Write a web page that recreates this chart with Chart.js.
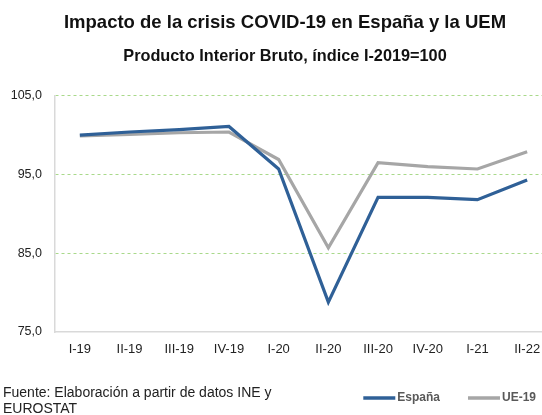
<!DOCTYPE html>
<html>
<head>
<meta charset="utf-8">
<script src="https://cdn.jsdelivr.net/npm/chart.js@4"></script>
<style>
  html, body { margin: 0; padding: 0; background: #fff; overflow: hidden; }
  /* el gráfico original sigue más allá del borde derecho */
  #wrap { width: 552px; height: 415px; position: relative; }
</style>
</head>
<body>
<div id="wrap"><canvas id="pib"></canvas></div>
<script>
// Datos trimestrales, índice I-2019 = 100
const quarters = ['I-19', 'II-19', 'III-19', 'IV-19', 'I-20', 'II-20', 'III-20', 'IV-20', 'I-21', 'II-22'];
const espana = [100.0, 100.4, 100.7, 101.1, 95.7, 78.8, 92.1, 92.1, 91.8, 94.3];
const ue19   = [99.9, 100.1, 100.3, 100.4, 96.9, 85.7, 96.5, 96.0, 95.7, 97.9];
const yTicks = [75, 85, 95, 105];

const FONT = "'Liberation Sans', Arial, sans-serif";

// los títulos van algo desplazados a la derecha en el original
const titleShift = {
  id: 'titleShift',
  afterLayout(chart) {
    const T = chart.titleBlock && chart.titleBlock.constructor;
    if (!T) return;
    chart.boxes.forEach(b => { if (b instanceof T) b.left += 18; });
  }
};

// fuente + leyenda dibujadas a mano (leyenda alineada a la derecha, estilo Excel)
const footer = {
  id: 'footer',
  afterDraw(chart) {
    const c = chart.ctx;
    c.save();
    c.textBaseline = 'middle';
    c.font = '14px ' + FONT;
    c.fillStyle = '#222';
    c.fillText('Fuente: Elaboración a partir de datos INE y', 3, 393);
    c.fillText('EUROSTAT', 3, 409);

    c.font = 'bold 12px ' + FONT;
    const lineW = 32, gap = 2, itemGap = 28, yLeg = 398;
    const items = chart.data.datasets.map(d => ({ text: d.label, color: d.borderColor, w: c.measureText(d.label).width }));
    let total = items.reduce((s, it) => s + lineW + gap + it.w, 0) + itemGap * (items.length - 1);
    let x = 536 - total;
    items.forEach(it => {
      c.strokeStyle = it.color;
      c.lineWidth = 3.5;
      c.beginPath();
      c.moveTo(x, yLeg);
      c.lineTo(x + lineW, yLeg);
      c.stroke();
      c.fillStyle = '#595959';
      c.fillText(it.text, x + lineW + gap, yLeg);
      x += lineW + gap + it.w + itemGap;
    });
    c.restore();
  }
};

new Chart(document.getElementById('pib'), {
  type: 'line',
  data: {
    labels: quarters,
    datasets: [
      { label: 'España', data: espana, borderColor: '#2f6097', backgroundColor: '#2f6097',
        borderWidth: 3.2, pointRadius: 0, tension: 0 },
      { label: 'UE-19', data: ue19, borderColor: '#a6a6a6', backgroundColor: '#a6a6a6',
        borderWidth: 3.2, pointRadius: 0, tension: 0 }
    ]
  },
  options: {
    responsive: true,
    maintainAspectRatio: false,
    animation: false,
    layout: { padding: { left: 0, right: 0, top: 0, bottom: 0 } },
    plugins: {
      title: {
        display: true,
        text: 'Impacto de la crisis COVID-19 en España y la UEM',
        color: '#111',
        font: { family: FONT, size: 18.5, weight: 'bold' },
        padding: { top: 12, bottom: 13 }
      },
      subtitle: {
        display: true,
        text: 'Producto Interior Bruto, índice I-2019=100',
        color: '#111',
        font: { family: FONT, size: 16.3, weight: 'bold' },
        padding: { top: 0, bottom: 29 }
      },
      legend: { display: false },
      tooltip: { enabled: false }
    },
    scales: {
      x: {
        offset: true,
        grid: { display: false, drawTicks: false },
        border: { color: '#d9d9d9', width: 1.5 },
        ticks: { color: '#222', padding: 10, maxRotation: 0, font: { family: FONT, size: 13 } },
        afterFit: (s) => { s.height = 83; }
      },
      y: {
        min: 75,
        max: 105,
        afterBuildTicks: (s) => { s.ticks = yTicks.map(v => ({ value: v })); },
        grid: {
          drawTicks: false,
          color: (ctx) => ctx.tick && ctx.tick.value === 75 ? 'rgba(0,0,0,0)' : '#a9d98a'
        },
        border: { color: '#d9d9d9', width: 1.5, dash: [3, 3] },
        ticks: {
          color: '#222',
          padding: 13,
          font: { family: FONT, size: 12.5 },
          callback: (v) => v.toFixed(1).replace('.', ',')
        },
        afterFit: (s) => { s.width = 55; }
      }
    }
  },
  plugins: [titleShift, footer]
});
</script>
</body>
</html>
